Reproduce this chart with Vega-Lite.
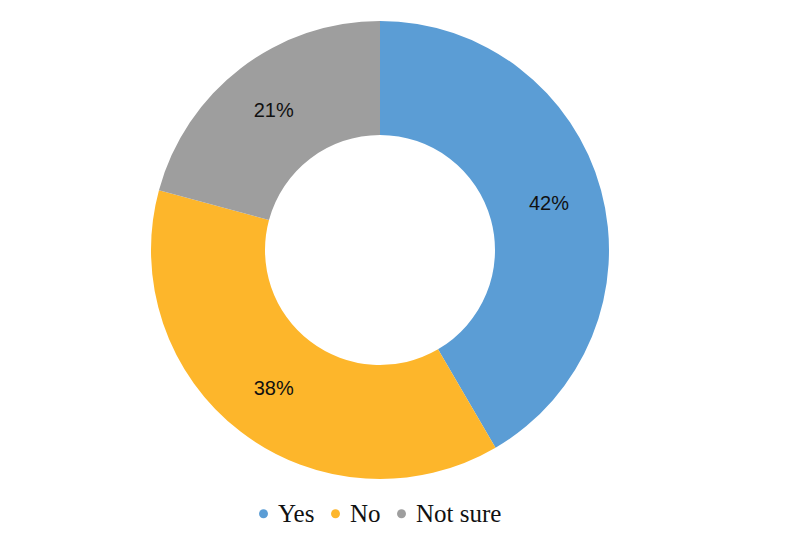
{
  "$schema": "https://vega.github.io/schema/vega-lite/v6.json",
  "autosize": "none",
  "width": 760,
  "height": 500,
  "padding": {"left": 0, "top": 0, "right": 39, "bottom": 44},
  "background": "white",
  "config": {"view": {"stroke": null}},
  "data": {"values": [
    {"answer": "Yes", "value": 42, "label": "42%", "order": 1},
    {"answer": "No", "value": 38, "label": "38%", "order": 2},
    {"answer": "Not sure", "value": 21, "label": "21%", "order": 3}
  ]},
  "encoding": {
    "theta": {"field": "value", "type": "quantitative", "stack": true},
    "order": {"field": "order", "type": "quantitative"}
  },
  "layer": [
    {
      "mark": {"type": "arc", "outerRadius": 229, "innerRadius": 115},
      "encoding": {
        "color": {
          "field": "answer", "type": "nominal",
          "sort": ["Yes", "No", "Not sure"],
          "scale": {"domain": ["Yes", "No", "Not sure"], "range": ["#5B9DD5", "#FDB62B", "#9E9E9E"]},
          "legend": {
            "title": null, "orient": "none", "legendX": 251, "legendY": 501, "direction": "horizontal",
            "symbolType": "circle", "symbolSize": 80, "labelFont": "Liberation Serif",
            "labelFontSize": 25, "labelColor": "#111", "columnPadding": 8, "labelOffset": 2
          }
        }
      }
    },
    {
      "mark": {"type": "text", "radius": 175, "font": "Liberation Sans", "fontSize": 20, "color": "#111"},
      "encoding": {"text": {"field": "label"}}
    }
  ]
}
